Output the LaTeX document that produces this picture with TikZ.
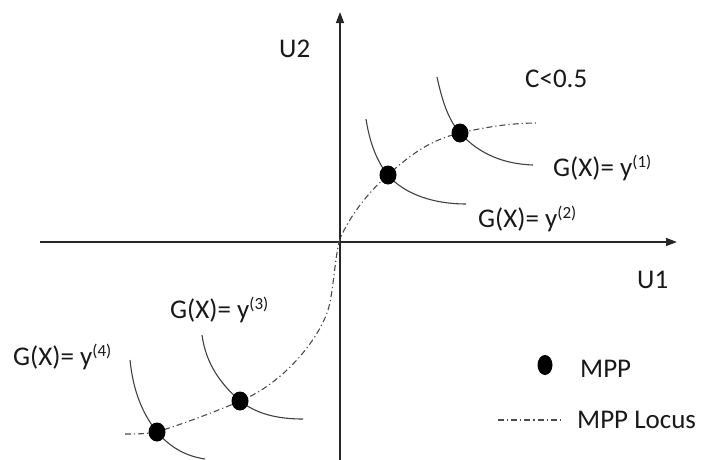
\documentclass[tikz,border=0pt]{standalone}
\usepackage{fontspec}
\setmainfont{Carlito}
\usetikzlibrary{arrows.meta,shapes.geometric}
\newcommand{\supr}[1]{\raisebox{9pt}{\fontsize{17}{20}\selectfont(#1)}}
\begin{document}
\begin{tikzpicture}[x=1pt,y=-1pt,
  axis/.style={line width=1.4pt,black!85,-{Triangle[length=11pt,width=8pt]}},
  level/.style={line width=1.1pt,black!75},
  locus/.style={line width=1.1pt,black!70,dash pattern=on 6pt off 3pt on 1.2pt off 3pt},
  mpp/.style={ellipse,fill=black,inner sep=0pt,minimum width=17pt,minimum height=19pt},
  lbl/.style={anchor=base west,inner sep=0pt,text=black!90,font=\fontsize{27}{32}\selectfont}]
\useasboundingbox (0,0) rectangle (705,459);
% axes
\coordinate (xl) at (40,242);
\coordinate (xr) at (677,242);
\coordinate (yb) at (340,462);
\coordinate (yt) at (340,12);
\draw[axis] (xl) -- (xr);
\draw[axis] (yb) -- (yt);
% points
\coordinate (O) at (339,242);
\coordinate (p1) at (460,133);
\coordinate (p2) at (388,175);
\coordinate (p3) at (240,401);
\coordinate (p4) at (157,432);
\coordinate (m) at (327,313);
\coordinate (ls) at (125,434);
\coordinate (le) at (537,123);
% locus
\draw[locus] (ls) .. controls (135,434) and (146,434) .. (p4)
  .. controls (185,423) and (215,412) .. (p3)
  .. controls (280,385) and (315,345) .. (m)
  .. controls (333,297) and (334,265) .. (O)
  .. controls (346,222) and (365,195) .. (p2)
  .. controls (410,155) and (430,140) .. (p1)
  .. controls (490,126) and (515,123) .. (le);
% level curves
\coordinate (c1a) at (437,77);  \coordinate (c1b) at (533,165);
\coordinate (c2a) at (366,119); \coordinate (c2b) at (466,204);
\coordinate (c3a) at (202,335); \coordinate (c3b) at (303,419);
\coordinate (c4a) at (130,360); \coordinate (c4b) at (205,459);
\draw[level] (c1a) .. controls (443,105) and (450,122) .. (p1) .. controls (480,155) and (505,164) .. (c1b);
\draw[level] (c2a) .. controls (370,145) and (378,163) .. (p2) .. controls (405,195) and (435,204) .. (c2b);
\draw[level] (c3a) .. controls (206,365) and (222,385) .. (p3) .. controls (258,415) and (280,419) .. (c3b);
\draw[level] (c4a) .. controls (133,390) and (142,413) .. (p4) .. controls (170,447) and (185,456) .. (c4b);
% dots
\node[mpp] (d1) at (p1) {};
\node[mpp] (d2) at (p2) {};
\node[mpp] (d3) at (p3) {};
\node[mpp] (d4) at (p4) {};
% labels
\node[lbl] (u2) at (279,57) {U2};
\node[lbl] (u1) at (637,288) {U1};
\node[lbl] (cc) at (525,87) {C<0.5};
\node[lbl] (g1) at (553,176) {G(X)= y\supr{1}};
\node[lbl] (g2) at (478,227) {G(X)= y\supr{2}};
\node[lbl] (g3) at (170,318) {G(X)= y\supr{3}};
\node[lbl] (g4) at (13,365) {G(X)= y\supr{4}};
% legend
\node[mpp,minimum width=15pt,minimum height=20pt] (ld) at (545,365) {};
\node[lbl] (lt1) at (580,377) {MPP};
\coordinate (la) at (498,420);
\coordinate (lb) at (560,420);
\draw[locus] (la) -- (lb);
\node[lbl] (lt2) at (577,428) {MPP Locus};
\end{tikzpicture}
\end{document}
